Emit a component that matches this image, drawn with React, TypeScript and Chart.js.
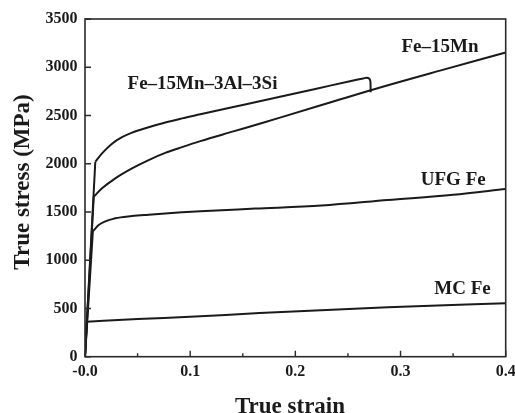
import { useEffect, useRef } from 'react';
import { Chart, registerables } from 'chart.js';

Chart.register(...registerables);

// Axis ticks
const strainTicks = [0, 0.1, 0.2, 0.3, 0.4];
const strainMinorTicks = [0.05, 0.15, 0.25, 0.35];
const stressTicks = [0, 500, 1000, 1500, 2000, 2500, 3000, 3500];

// Fe–15Mn–3Al–3Si (ends with a small hook at fracture)
const alSiStrain = [0, 0.0098, 0.0162, 0.0257, 0.0352, 0.0447, 0.0605, 0.0763, 0.0922, 0.1096, 0.141, 0.166, 0.1854, 0.219, 0.2519, 0.2645, 0.2678, 0.2703, 0.2713, 0.2715, 0.27155];
const alSiStress = [0, 2021, 2108, 2208, 2275, 2323, 2378, 2428, 2470, 2512, 2588, 2648, 2695, 2775, 2855, 2884, 2892, 2882, 2855, 2815, 2740];

// Fe–15Mn
const mnStrain = [0, 0.0083, 0.0162, 0.0288, 0.0447, 0.0605, 0.0763, 0.0922, 0.1096, 0.141, 0.166, 0.1854, 0.225, 0.2725, 0.3375, 0.4];
const mnStress = [0, 1658, 1745, 1849, 1952, 2038, 2112, 2172, 2234, 2335, 2415, 2478, 2608, 2765, 2965, 3152];

// UFG Fe
const ufgStrain = [0, 0.0075, 0.013, 0.0288, 0.0447, 0.0605, 0.092, 0.1096, 0.162, 0.225, 0.288, 0.35, 0.4];
const ufgStress = [0, 1300, 1365, 1434, 1458, 1472, 1496, 1508, 1535, 1567, 1624, 1678, 1738];

// MC Fe
const mcStrain = [0, 0.0016, 0.05, 0.1, 0.166, 0.288, 0.4];
const mcStress = [0, 362, 390, 414, 452, 512, 553];

// Curve names and where each name sits (strain, stress)
const curveNames = ['Fe–15Mn–3Al–3Si', 'Fe–15Mn', 'UFG Fe', 'MC Fe'];
const nameStrain = [0.1117, 0.3375, 0.3501, 0.3589];
const nameStress = [2821, 3210, 1826, 700];

const SERIF = '"Liberation Serif", "Times New Roman", serif';
const INK = '#1a1a1a';

const toPoints = (xs: number[], ys: number[]) => xs.map((x, i) => ({ x, y: ys[i] }));

const framePlugin = {
  id: 'frameAndText',
  afterDatasetsDraw(chart: any) {
    const { ctx, chartArea: a, scales } = chart;
    const xs = scales.x;
    const ys = scales.y;
    ctx.save();
    ctx.strokeStyle = '#2a2a2a';
    ctx.lineWidth = 1.6;
    ctx.strokeRect(a.left, a.top, a.right - a.left, a.bottom - a.top);

    // inward tick marks
    ctx.lineWidth = 1.4;
    ctx.beginPath();
    strainTicks.forEach((v) => {
      const px = xs.getPixelForValue(v);
      ctx.moveTo(px, a.bottom);
      ctx.lineTo(px, a.bottom - 6);
    });
    strainMinorTicks.forEach((v) => {
      const px = xs.getPixelForValue(v);
      ctx.moveTo(px, a.bottom);
      ctx.lineTo(px, a.bottom - 3.5);
    });
    stressTicks.forEach((v) => {
      const py = ys.getPixelForValue(v);
      ctx.moveTo(a.left, py);
      ctx.lineTo(a.left + 6, py);
    });
    ctx.stroke();

    // curve names
    ctx.fillStyle = INK;
    ctx.font = `bold 19px ${SERIF}`;
    ctx.textAlign = 'center';
    ctx.textBaseline = 'middle';
    curveNames.forEach((name, i) => {
      ctx.fillText(name, xs.getPixelForValue(nameStrain[i]), ys.getPixelForValue(nameStress[i]));
    });

    // axis titles
    ctx.font = `bold 23px ${SERIF}`;
    ctx.textBaseline = 'alphabetic';
    ctx.fillText('True strain', 290, 413);
    ctx.save();
    ctx.translate(28.5, 182);
    ctx.rotate(-Math.PI / 2);
    ctx.fillText('True stress (MPa)', 0, 0);
    ctx.restore();
    ctx.restore();
  },
};

// Each curve is drawn as a straight elastic segment (origin to yield)
// followed by a smooth plastic branch starting at the yield point.
function curveDatasets(xs: number[], ys: number[]) {
  const base = { borderColor: INK, borderWidth: 2, pointRadius: 0, fill: false };
  return [
    { ...base, data: toPoints(xs.slice(0, 2), ys.slice(0, 2)), tension: 0 },
    { ...base, data: toPoints(xs.slice(1), ys.slice(1)), cubicInterpolationMode: 'monotone' },
  ];
}

export default function App() {
  const canvasRef = useRef<HTMLCanvasElement | null>(null);

  useEffect(() => {
    if (!canvasRef.current) return;
    const chart = new Chart(canvasRef.current, {
      type: 'line',
      data: {
        datasets: [
          ...curveDatasets(alSiStrain, alSiStress),
          ...curveDatasets(mnStrain, mnStress),
          ...curveDatasets(ufgStrain, ufgStress),
          ...curveDatasets(mcStrain, mcStress),
        ] as any,
      },
      options: {
        responsive: false,
        animation: false,
        devicePixelRatio: 1,
        layout: { padding: { left: 0, top: 19, right: 9.3, bottom: 0 } },
        plugins: { legend: { display: false }, tooltip: { enabled: false } },
        scales: {
          x: {
            type: 'linear',
            min: 0,
            max: 0.4,
            grid: { display: false, drawTicks: false },
            border: { display: false },
            afterBuildTicks: (s: any) => {
              s.ticks = strainTicks.map((value) => ({ value }));
            },
            afterFit: (s: any) => {
              s.height = 56.3;
              s.paddingLeft = 0;
              s.paddingRight = 0;
            },
            ticks: {
              autoSkip: false,
              maxRotation: 0,
              padding: 6,
              color: INK,
              font: { family: SERIF, size: 16, weight: 'bold' },
              callback: (v: any) => (Number(v) === 0 ? '-0.0' : Number(v).toFixed(1)),
            },
          },
          y: {
            type: 'linear',
            min: 0,
            max: 3500,
            grid: { display: false, drawTicks: false },
            border: { display: false },
            afterBuildTicks: (s: any) => {
              s.ticks = stressTicks.map((value) => ({ value }));
            },
            afterFit: (s: any) => {
              s.width = 85;
              s.paddingTop = 0;
              s.paddingBottom = 0;
            },
            ticks: {
              autoSkip: false,
              padding: 7.5,
              color: INK,
              font: { family: SERIF, size: 16, weight: 'bold' },
              callback: (v: any) => String(v),
            },
          },
        },
      } as any,
      plugins: [framePlugin],
    });
    return () => chart.destroy();
  }, []);

  return (
    <div style={{ position: 'fixed', left: 0, top: 0, width: 515, height: 413, background: '#fff' }}>
      <canvas ref={canvasRef} width={515} height={413} />
    </div>
  );
}
